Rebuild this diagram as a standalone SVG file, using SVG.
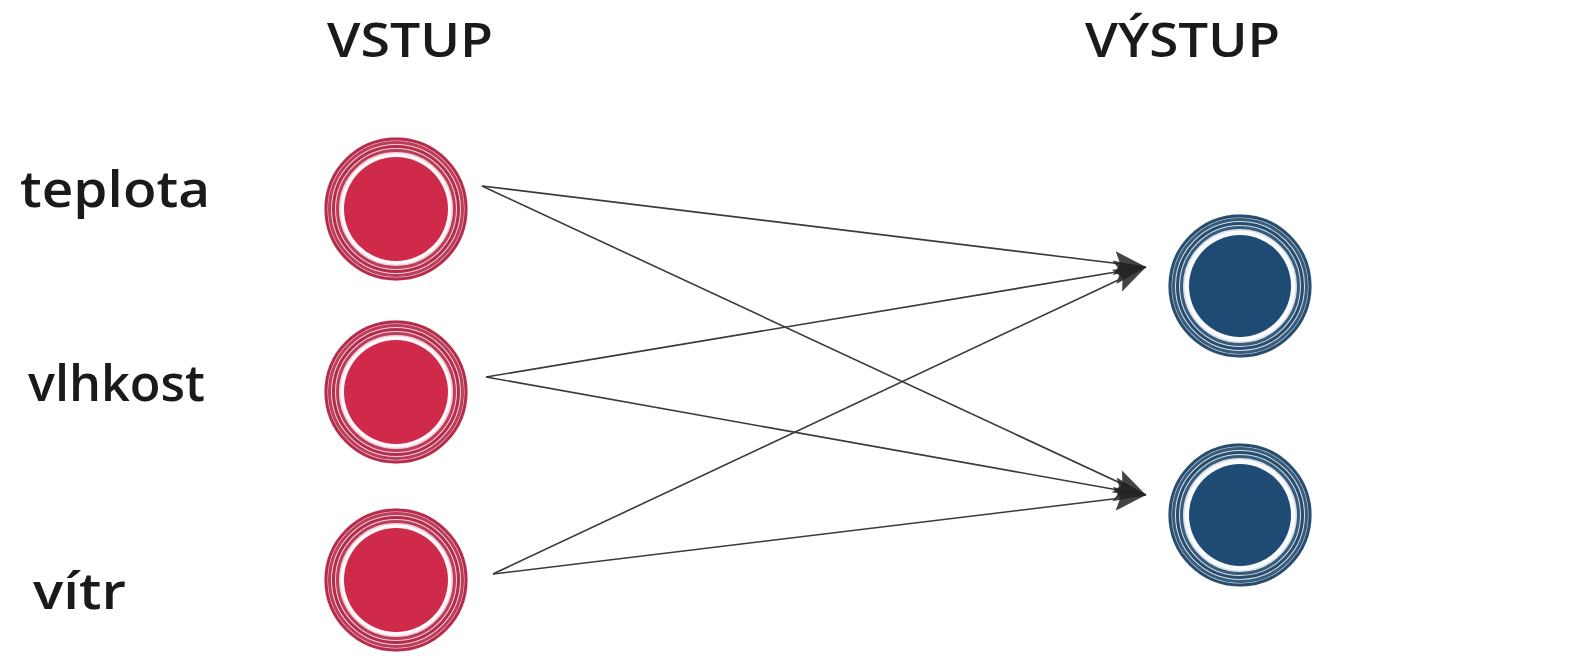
<svg xmlns="http://www.w3.org/2000/svg" width="1577" height="672" viewBox="0 0 1577 672">
<style>
.lbl{font-family:"Open Sans","Noto Sans","Liberation Sans",sans-serif;fill:#1a1a1a;font-size:50px;font-weight:600}
.hdr{font-family:"Open Sans","Noto Sans","Liberation Sans",sans-serif;fill:#1a1a1a;font-size:47px;font-weight:600}
.conn{stroke:#3a3a3a;stroke-width:1.6;fill:none;marker-end:url(#arr)}
.rring{fill:none;stroke:#b52c4b;stroke-width:3}
.bring{fill:none;stroke:#284c6e;stroke-width:3}
</style>
<defs>
<marker id="arr" viewBox="0 0 32 26" markerWidth="32" markerHeight="26" refX="32" refY="13" orient="auto" markerUnits="userSpaceOnUse">
<path d="M0,1 L32,13 L0,25 L6,13 z" fill="#222222" fill-opacity="0.85"/>
</marker>
<g id="redNode">
<circle r="72" fill="#f3d3db"/>
<circle r="70" class="rring" stroke-width="2.5"/>
<circle r="66.5" class="rring" opacity="0.9"/>
<circle r="62.5" class="rring"/>
<circle r="58.5" class="rring" opacity="0.9"/>
<circle r="55.5" fill="#ffffff" fill-opacity="0.85"/>
<circle r="52" fill="#cf2a4a"/>
</g>
<g id="blueNode">
<circle r="72" fill="#d6e1eb"/>
<circle r="70" class="bring" stroke-width="2.5"/>
<circle r="66.5" class="bring" opacity="0.9"/>
<circle r="62.5" class="bring"/>
<circle r="58.5" class="bring" opacity="0.9"/>
<circle r="55.5" fill="#ffffff" fill-opacity="0.85"/>
<circle r="51" fill="#1e4a74"/>
</g>
</defs>
<rect width="1577" height="672" fill="#ffffff"/>
<text class="hdr" x="327" y="57" textLength="166" lengthAdjust="spacingAndGlyphs">VSTUP</text>
<text class="hdr" x="1085" y="57" textLength="195" lengthAdjust="spacingAndGlyphs">VÝSTUP</text>
<g id="connectors">
<line class="conn" x1="482" y1="186" x2="1146" y2="267"/>
<line class="conn" x1="482" y1="186" x2="1146" y2="495"/>
<line class="conn" x1="486" y1="377" x2="1146" y2="267"/>
<line class="conn" x1="486" y1="377" x2="1146" y2="495"/>
<line class="conn" x1="493" y1="574" x2="1146" y2="267"/>
<line class="conn" x1="493" y1="574" x2="1146" y2="495"/>
</g>
<g id="in-teplota">
<use href="#redNode" x="396" y="209"/>
<text class="lbl" x="20" y="207" textLength="190" lengthAdjust="spacingAndGlyphs">teplota</text>
</g>
<g id="in-vlhkost">
<use href="#redNode" x="396" y="392"/>
<text class="lbl" x="28" y="401" textLength="177" lengthAdjust="spacingAndGlyphs">vlhkost</text>
</g>
<g id="in-vitr">
<use href="#redNode" x="396" y="580"/>
<text class="lbl" x="33" y="609" textLength="93" lengthAdjust="spacingAndGlyphs">vítr</text>
</g>
<g id="out-1">
<use href="#blueNode" x="1240" y="286"/>
</g>
<g id="out-2">
<use href="#blueNode" x="1240" y="515"/>
</g>
</svg>
